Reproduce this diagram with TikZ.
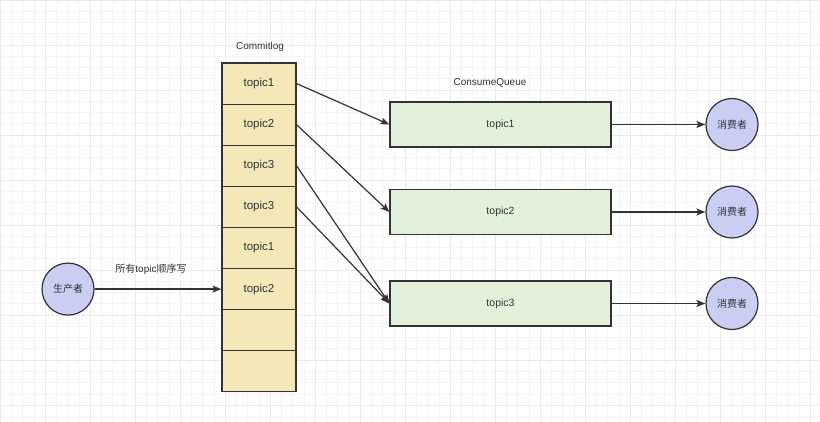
\documentclass[tikz,border=0pt]{standalone}
\usepackage{fontspec}
\setmainfont{Liberation Sans}
\newfontfamily\cjk{Noto Sans CJK SC}
\usetikzlibrary{arrows.meta}
\definecolor{linegray}{HTML}{333333}
\definecolor{logfill}{HTML}{F5E8B8}
\definecolor{queuefill}{HTML}{E2F2DA}
\definecolor{clientfill}{HTML}{C9CEF2}
\tikzset{
  cell/.style={draw=linegray, line width=1.2pt, fill=logfill, minimum width=74pt,
    minimum height=41.1pt, inner sep=0pt, text=linegray, font=\fontsize{11.5}{13}\selectfont},
  queue/.style={draw=linegray, line width=1.2pt, fill=queuefill, minimum width=221pt,
    minimum height=45pt, inner sep=0pt, text=linegray, font=\fontsize{10.5}{12}\selectfont},
  client/.style={circle, draw=linegray, line width=1.2pt, fill=clientfill, minimum size=52pt,
    inner sep=0pt, text=linegray, font=\cjk\fontsize{10}{12}\selectfont},
  caption/.style={text=linegray, font=\fontsize{10}{12}\selectfont},
  flow/.style={draw=linegray, line width=1.2pt, -{Stealth[length=9pt,width=7pt,inset=2pt]}}
}
\begin{document}
\begin{tikzpicture}[x=1pt,y=-1pt]
      \useasboundingbox (0,0) rectangle (820,422);
      \fill[white] (0,0) rectangle (820,422);
      % background grid
      \draw[black!4, line width=0.5pt, step=11.25pt] (0,0) grid (820,422);
      \draw[black!8, line width=0.6pt, step=45pt] (0,0) grid (820,422);
      % commit log
      \draw
        (259,83.6) node[cell] (c1){topic1}
        (259,124.7) node[cell] (c2){topic2}
        (259,165.8) node[cell] (c3){topic3}
        (259,206.9) node[cell] (c4){topic3}
        (259,248) node[cell] (c5){topic1}
        (259,289.1) node[cell] (c6){topic2}
        (259,330.2) node[cell] (c7){}
        (259,371.3) node[cell] (c8){};
      \draw
        (500.5,124.5) node[queue] (q1){topic1}
        (500.5,212) node[queue] (q2){topic2}
        (500.5,303.5) node[queue] (q3){topic3};
      \draw
        (732,124.5) node[client] (con1){消费者}
        (732,212) node[client] (con2){消费者}
        (732,303.5) node[client] (con3){消费者}
        (68,289.1) node[client] (prod){生产者};
      \draw
        (260,47) node[caption] (logtitle){Commitlog}
        (490,83) node[caption] (queuetitle){ConsumeQueue}
        (151,269) node[caption] (writetitle){{\cjk 所有}topic{\cjk 顺序写}};
      \begin{scope}[flow]
        \draw (prod.east) to (c6.west);
        \draw (c1.east) to (q1.west);
        \draw (c2.east) to (q2.west);
        \draw (c3.east) to (q3.west);
        \draw (c4.east) to (q3.west);
        \draw (q1.east) to (con1.west);
        \draw (q2.east) to (con2.west);
        \draw (q3.east) to (con3.west);
      \end{scope}
    \end{tikzpicture}
\end{document}
